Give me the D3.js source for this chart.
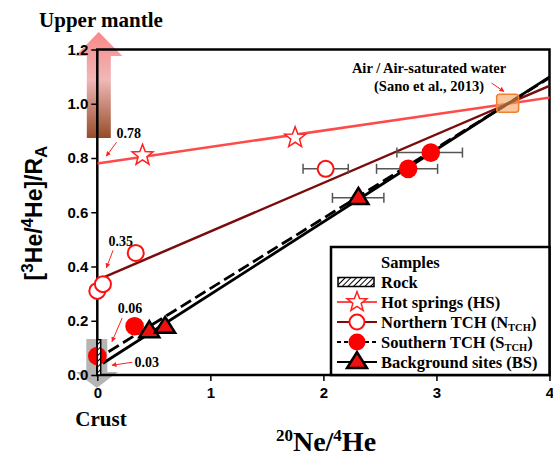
<!DOCTYPE html>
<html><head><meta charset="utf-8">
<script src="https://cdn.jsdelivr.net/npm/d3@7"></script>
<style>body{margin:0;background:#fff}svg{display:block}</style>
</head><body>
<svg id="c" width="553" height="456"></svg>
<script>
// ---- data ----
const xTicks = [0, 1, 2, 3, 4];
const yTicks = [0, 0.2, 0.4, 0.6, 0.8, 1.0, 1.2];
const air = [3.63, 1.0];
const hsPts = [[0.40, 0.81], [1.75, 0.875]];
const ntchPts = [[0.0, 0.31], [0.05, 0.335], [0.34, 0.45], [2.02, 0.76]];
const ntchErr = [[null, null], [null, null], [null, null], [1.82, 2.22]];
const stchPts = [[0.0, 0.07], [0.33, 0.18], [2.75, 0.76], [2.95, 0.82]];
const stchErr = [[null, null], [null, null], [2.47, 3.01], [2.65, 3.23]];
const bsPts = [[0.46, 0.162], [0.60, 0.178], [2.31, 0.653]];
const bsErr = [[null, null], [null, null], [2.08, 2.535]];
const intercepts = [0.78, 0.35, 0.06, 0.03];
const interceptLabels = ["0.78", "0.35", "0.06", "0.03"];
const lineStart = [0, 0.04, 0.1, 0.05];
const rock = [0.03, 0.13];
const legendLabels = ["Rock", "Hot springs (HS)", "Northern TCH (N", "Southern TCH (S", "Background sites (BS)"];

// ---- setup ----
const svg = d3.select("#c");
const x = d3.scaleLinear([0, 4], [97.3, 549.5]);
const y = d3.scaleLinear([0, 1.2], [375, 49.5]);
const serif = "'Liberation Serif','Times New Roman',serif";
const sans = "'Liberation Sans',Arial,sans-serif";

const defs = svg.append("defs");
defs.append("clipPath").attr("id", "clip").append("rect")
  .attr("x", x(0)).attr("y", y(1.2)).attr("width", x(4) - x(0)).attr("height", y(0) - y(1.2));
const pat = defs.append("pattern").attr("id", "hatch").attr("patternUnits", "userSpaceOnUse")
  .attr("width", 4).attr("height", 4).attr("patternTransform", "rotate(45)");
pat.append("rect").attr("width", 4).attr("height", 4).attr("fill", "#fff");
pat.append("line").attr("x1", 0).attr("y1", 0).attr("x2", 0).attr("y2", 4).attr("stroke", "#000").attr("stroke-width", 2);
const grad = defs.append("linearGradient").attr("id", "upg").attr("x1", 0).attr("y1", 1).attr("x2", 0).attr("y2", 0);
grad.append("stop").attr("offset", "0%").attr("stop-color", "#8a3810");
grad.append("stop").attr("offset", "55%").attr("stop-color", "#eeb0b0");
grad.append("stop").attr("offset", "100%").attr("stop-color", "#f97a7a");
const mk = defs.append("marker").attr("id", "ah").attr("viewBox", "0 0 10 10").attr("refX", 9).attr("refY", 5)
  .attr("markerWidth", 5).attr("markerHeight", 5).attr("orient", "auto");
mk.append("path").attr("d", "M0,0L10,5L0,10z").attr("fill", "#ff2020");

// ---- arrows (beneath axes) ----
const ax0 = x(0);
function blockArrow(cx, yBase, yHeadBase, yTip, shaftHalf, headHalf) {
  return `M${cx - shaftHalf},${yBase}L${cx - shaftHalf},${yHeadBase}L${cx - headHalf},${yHeadBase}L${cx},${yTip}L${cx + headHalf},${yHeadBase}L${cx + shaftHalf},${yHeadBase}L${cx + shaftHalf},${yBase}Z`;
}
svg.append("path").attr("d", blockArrow(ax0 + 1.5, 138, 56, 32, 12, 23.5)).attr("fill", "url(#upg)").attr("opacity", 0.9);
svg.append("path").attr("d", blockArrow(ax0 - 0.5, 339, 372, 388, 10.5, 21)).attr("fill", "#a8a8a8").attr("opacity", 0.85);

// ---- axes ----
const gy = svg.append("g").attr("transform", `translate(${x(0)},0)`)
  .call(d3.axisLeft(y).tickValues(yTicks).tickFormat(d3.format(".1f")).tickSize(6).tickSizeOuter(0));
const gx = svg.append("g").attr("transform", `translate(0,${y(0)})`)
  .call(d3.axisBottom(x).tickValues(xTicks).tickFormat(d3.format("d")).tickSize(6).tickSizeOuter(0));
[gx, gy].forEach(g => {
  g.select(".domain").remove();
  g.selectAll(".tick line").attr("stroke", "#000").attr("stroke-width", 1.5);
  g.selectAll(".tick text").attr("font-family", sans).attr("font-weight", "bold").attr("font-size", 15).attr("fill", "#000");
});
gy.selectAll(".tick text").attr("x", -9);
gx.selectAll(".tick text").attr("y", 12);

svg.append("rect").attr("x", x(0)).attr("y", y(1.2)).attr("width", x(4) - x(0)).attr("height", y(0) - y(1.2))
  .attr("fill", "none").attr("stroke", "#000").attr("stroke-width", 2.5);

// ---- mixing lines ----
const lineColors = ["#ff4a4a", "#7a0c0c", "#000", "#000"];
const lineWidths = [2.5, 2.5, 2.8, 2.8];
const lineDash = [null, null, "12,5", null];
const plot = svg.append("g").attr("clip-path", "url(#clip)");
const lineGen = d3.line().x(d => x(d[0])).y(d => y(d[1]));
intercepts.forEach((b, i) => {
  const slope = (air[1] - b) / air[0];
  const pts = [[lineStart[i], b + slope * lineStart[i]], [4.1, b + slope * 4.1]];
  plot.append("path").attr("d", lineGen(pts)).attr("fill", "none")
    .attr("stroke", lineColors[i]).attr("stroke-width", lineWidths[i]).attr("stroke-dasharray", lineDash[i]);
});

// air square
svg.append("rect").attr("x", x(air[0]) - 11).attr("y", y(air[1]) - 9.5).attr("width", 22).attr("height", 18).attr("rx", 3)
  .attr("fill", "#f6a15c").attr("fill-opacity", 0.6).attr("stroke", "#f08030").attr("stroke-width", 1.5);

// ---- error bars ----
function errBars(pts, errs) {
  pts.forEach((p, i) => {
    const e = errs[i];
    if (e[0] == null) return;
    const g = svg.append("g").attr("stroke", "#555").attr("stroke-width", 1.5);
    g.append("line").attr("x1", x(e[0])).attr("x2", x(e[1])).attr("y1", y(p[1])).attr("y2", y(p[1]));
    [e[0], e[1]].forEach(v => g.append("line").attr("x1", x(v)).attr("x2", x(v)).attr("y1", y(p[1]) - 5).attr("y2", y(p[1]) + 5));
  });
}
errBars(ntchPts, ntchErr);
errBars(stchPts, stchErr);
errBars(bsPts, bsErr);

// ---- markers ----
function starPath(r1, r2) {
  const a = [];
  for (let k = 0; k < 10; k++) {
    const r = k % 2 ? r2 : r1, ang = -Math.PI / 2 + k * Math.PI / 5;
    a.push([r * Math.cos(ang), r * Math.sin(ang)]);
  }
  return "M" + a.map(p => p.join(",")).join("L") + "Z";
}
function triPath(w, h) {
  return `M0,${-h * 0.62}L${w / 2},${h * 0.38}L${-w / 2},${h * 0.38}Z`;
}
const drawStar = (g, cx, cy, s) => g.append("path").attr("d", starPath(11 * s, 4.6 * s)).attr("transform", `translate(${cx},${cy})`)
  .attr("fill", "#fff").attr("stroke", "#ff2020").attr("stroke-width", 1.5);
const drawOpen = (g, cx, cy, r) => g.append("circle").attr("cx", cx).attr("cy", cy).attr("r", r)
  .attr("fill", "#fff").attr("stroke", "#ff1010").attr("stroke-width", 2);
const drawFilled = (g, cx, cy, r) => g.append("circle").attr("cx", cx).attr("cy", cy).attr("r", r).attr("fill", "#ff0000");
const drawTri = (g, cx, cy, s) => g.append("path").attr("d", triPath(20 * s, 16 * s)).attr("transform", `translate(${cx},${cy})`)
  .attr("fill", "#ee1010").attr("stroke", "#000").attr("stroke-width", 2.5).attr("stroke-linejoin", "miter");

const mg = svg.append("g");
stchPts.forEach(p => drawFilled(mg, x(p[0]), y(p[1]), 9.3));
ntchPts.forEach(p => drawOpen(mg, x(p[0]), y(p[1]), 8));
hsPts.forEach(p => drawStar(mg, x(p[0]), y(p[1]), 1));
bsPts.forEach(p => drawTri(mg, x(p[0]), y(p[1]), 1));

// rock
svg.append("rect").attr("x", x(0)).attr("y", y(rock[1])).attr("width", x(rock[0]) - x(0)).attr("height", y(0) - y(rock[1]))
  .attr("fill", "url(#hatch)").attr("stroke", "#000").attr("stroke-width", 1.5);

// ---- annotations ----
const annPos = [[0.17, 0.873, 0.17, 0.858, 0.08, 0.807], [0.1, 0.475, 0.14, 0.46, 0.08, 0.395],
                [0.18, 0.23, 0.22, 0.21, 0.13, 0.123], [0.33, 0.03, 0.31, 0.047, 0.13, 0.036]];
annPos.forEach((a, i) => {
  svg.append("text").attr("x", x(a[0])).attr("y", y(a[1])).text(interceptLabels[i])
    .attr("font-family", serif).attr("font-weight", "bold").attr("font-size", 14);
  svg.append("line").attr("x1", x(a[2])).attr("y1", y(a[3])).attr("x2", x(a[4])).attr("y2", y(a[5]))
    .attr("stroke", "#ff2020").attr("stroke-width", 1).attr("marker-end", "url(#ah)");
});
svg.append("text").attr("x", 429).attr("y", 73).attr("text-anchor", "middle").text("Air / Air-saturated water")
  .attr("font-family", serif).attr("font-weight", "bold").attr("font-size", 14.5);
svg.append("text").attr("x", 429).attr("y", 90.5).attr("text-anchor", "middle").text("(Sano et al., 2013)")
  .attr("font-family", serif).attr("font-weight", "bold").attr("font-size", 14.5);
svg.append("line").attr("x1", 491.5).attr("y1", 83).attr("x2", 504).attr("y2", 91.5)
  .attr("stroke", "#ff2020").attr("stroke-width", 1).attr("marker-end", "url(#ah)");

// ---- labels ----
svg.append("text").attr("x", 101).attr("y", 27).attr("text-anchor", "middle").text("Upper mantle")
  .attr("font-family", serif).attr("font-weight", "bold").attr("font-size", 21);
svg.append("text").attr("x", 101).attr("y", 426).attr("text-anchor", "middle").text("Crust")
  .attr("font-family", serif).attr("font-weight", "bold").attr("font-size", 21);
const xt = svg.append("text").attr("x", 326).attr("y", 451).attr("text-anchor", "middle")
  .attr("font-family", serif).attr("font-weight", "bold").attr("font-size", 28);
xt.append("tspan").text("20").attr("font-size", 17).attr("dy", -10);
xt.append("tspan").text("Ne/").attr("dy", 10);
xt.append("tspan").text("4").attr("font-size", 17).attr("dy", -10);
xt.append("tspan").text("He").attr("dy", 10);

const yt = svg.append("text").attr("transform", "translate(42,213) rotate(-90)").attr("text-anchor", "middle")
  .attr("font-family", sans).attr("font-weight", "bold").attr("font-size", 23);
yt.append("tspan").text("[");
yt.append("tspan").text("3").attr("font-size", 17).attr("dy", -9);
yt.append("tspan").text("He/").attr("dy", 9);
yt.append("tspan").text("4").attr("font-size", 17).attr("dy", -9);
yt.append("tspan").text("He]/R").attr("dy", 9);
yt.append("tspan").text("A").attr("font-size", 17).attr("dy", 5);

// ---- legend ----
const lg = svg.append("g");
lg.append("rect").attr("x", 331).attr("y", 247).attr("width", x(4) - 331).attr("height", y(0) - 247)
  .attr("fill", "#fff").attr("stroke", "#000").attr("stroke-width", 2.5);
lg.append("text").attr("x", 381).attr("y", 268).text("Samples")
  .attr("font-family", serif).attr("font-weight", "bold").attr("font-size", 16.5);
const rowY = i => 282 + i * 20;
const lx0 = 337, lx1 = 377, lcx = 357;
legendLabels.forEach((lab, i) => {
  const cy = rowY(i);
  if (i === 0) {
    lg.append("rect").attr("x", 338).attr("y", cy - 4.5).attr("width", 36).attr("height", 9)
      .attr("fill", "url(#hatch)").attr("stroke", "#000").attr("stroke-width", 1.5);
  } else {
    const li = i - 1;
    lg.append("line").attr("x1", lx0).attr("x2", lx1).attr("y1", cy).attr("y2", cy)
      .attr("stroke", lineColors[li]).attr("stroke-width", 1.8).attr("stroke-dasharray", li === 2 ? "4,3" : null);
    if (li === 0) drawStar(lg, lcx, cy, 0.95);
    if (li === 1) drawOpen(lg, lcx, cy, 7.5);
    if (li === 2) drawFilled(lg, lcx, cy, 8.5);
    if (li === 3) drawTri(lg, lcx, cy, 1);
  }
  const t = lg.append("text").attr("x", 381).attr("y", cy + 5.5)
    .attr("font-family", serif).attr("font-weight", "bold").attr("font-size", 16.5);
  t.append("tspan").text(lab);
  if (i === 2 || i === 3) {
    t.append("tspan").text("TCH").attr("font-size", 10.5).attr("dy", 3);
    t.append("tspan").text(")").attr("dy", -3);
  }
});
</script>
</body></html>
